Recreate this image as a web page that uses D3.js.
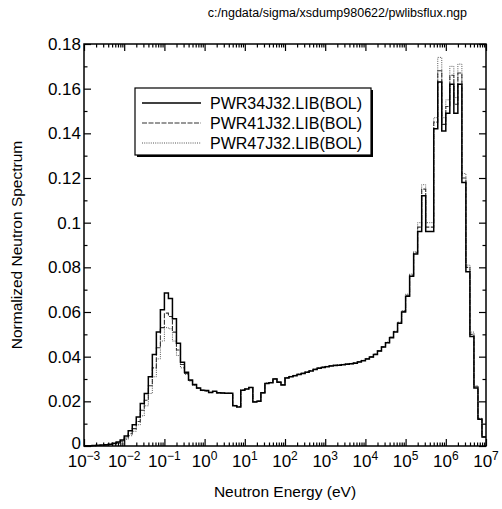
<!DOCTYPE html>
<html lang="en">
<head>
<meta charset="UTF-8">
<title>Normalized Neutron Spectrum</title>
<script src="https://d3js.org/d3.v7.min.js"></script>
<style>
    body { margin: 0; background: #fff; font-family: "Liberation Sans", Arial, sans-serif; }
    svg text { fill: #000; }
</style>
</head>
<body>
<div id="chart"></div>
<script>
// group boundaries, log10 of energy in eV
const logEdges = [
    -3.0, -2.9, -2.8, -2.7, -2.6, -2.5, -2.4, -2.3, -2.2, -2.1,
    -2.0, -1.9, -1.8, -1.7, -1.6, -1.5, -1.4, -1.3, -1.2, -1.1,
    -1.0, -0.9, -0.8, -0.7, -0.6, -0.5, -0.4, -0.3, -0.2, -0.1,
    0.0, 0.1, 0.2, 0.3, 0.4, 0.5, 0.6, 0.7, 0.8, 0.9,
    1.0, 1.1, 1.2, 1.3, 1.4, 1.5, 1.6, 1.7, 1.8, 1.9,
    2.0, 2.1, 2.2, 2.3, 2.4, 2.5, 2.6, 2.7, 2.8, 2.9,
    3.0, 3.1, 3.2, 3.3, 3.4, 3.5, 3.6, 3.7, 3.8, 3.9,
    4.0, 4.1, 4.2, 4.3, 4.4, 4.5, 4.6, 4.7, 4.8, 4.9,
    5.0, 5.1, 5.2, 5.3, 5.4, 5.5, 5.6, 5.7, 5.8, 5.9,
    6.0, 6.1, 6.2, 6.3, 6.4, 6.5, 6.6, 6.7, 6.8, 6.9,
    7.0
];

const pwr34 = [
    0.0001, 0.0001, 0.0002, 0.0003, 0.0004, 0.0006, 0.0008, 0.0012, 0.0018, 0.0027,
    0.0045, 0.0068, 0.0095, 0.0130, 0.0190, 0.0235, 0.0310, 0.0410, 0.0510, 0.0610,
    0.0685, 0.0660, 0.0570, 0.0460, 0.0375, 0.0330, 0.0295, 0.0275, 0.0260, 0.0250,
    0.0248, 0.0240, 0.0245, 0.0238, 0.0237, 0.0236, 0.0236, 0.0180, 0.0175, 0.0250,
    0.0255, 0.0262, 0.0197, 0.0200, 0.0238, 0.0280, 0.0283, 0.0300, 0.0285, 0.0273,
    0.0305, 0.0310, 0.0315, 0.0320, 0.0325, 0.0330, 0.0336, 0.0342, 0.0348, 0.0352,
    0.0355, 0.0358, 0.0360, 0.0362, 0.0364, 0.0366, 0.0368, 0.0371, 0.0376, 0.0382,
    0.0390, 0.0398, 0.0410, 0.0425, 0.0443, 0.0462, 0.0485, 0.0510, 0.0550, 0.0600,
    0.0670, 0.0760, 0.0860, 0.0960, 0.1120, 0.0960, 0.0960, 0.1420, 0.1630, 0.1410,
    0.1490, 0.1620, 0.1490, 0.1620, 0.1180, 0.0780, 0.0490, 0.0260, 0.0120, 0.0040
];

const pwr41 = [
    0.0001, 0.0001, 0.0002, 0.0002, 0.0003, 0.0005, 0.0007, 0.0010, 0.0015, 0.0022,
    0.0036, 0.0055, 0.0078, 0.0110, 0.0160, 0.0205, 0.0270, 0.0350, 0.0440, 0.0530,
    0.0595, 0.0580, 0.0510, 0.0430, 0.0365, 0.0325, 0.0293, 0.0273, 0.0259, 0.0249,
    0.0247, 0.0240, 0.0244, 0.0238, 0.0237, 0.0236, 0.0236, 0.0181, 0.0176, 0.0250,
    0.0255, 0.0262, 0.0198, 0.0201, 0.0238, 0.0281, 0.0284, 0.0301, 0.0286, 0.0274,
    0.0306, 0.0311, 0.0316, 0.0321, 0.0326, 0.0331, 0.0337, 0.0343, 0.0349, 0.0353,
    0.0356, 0.0359, 0.0361, 0.0363, 0.0365, 0.0367, 0.0369, 0.0372, 0.0377, 0.0383,
    0.0391, 0.0399, 0.0411, 0.0426, 0.0444, 0.0463, 0.0487, 0.0512, 0.0552, 0.0603,
    0.0675, 0.0765, 0.0865, 0.0980, 0.1150, 0.0980, 0.0980, 0.1450, 0.1680, 0.1440,
    0.1520, 0.1660, 0.1530, 0.1670, 0.1200, 0.0800, 0.0500, 0.0265, 0.0122, 0.0041
];

const pwr47 = [
    0.0001, 0.0001, 0.0001, 0.0002, 0.0003, 0.0004, 0.0006, 0.0008, 0.0012, 0.0018,
    0.0030, 0.0046, 0.0066, 0.0095, 0.0135, 0.0180, 0.0235, 0.0310, 0.0390, 0.0470,
    0.0530, 0.0525, 0.0470, 0.0405, 0.0350, 0.0320, 0.0290, 0.0272, 0.0258, 0.0248,
    0.0246, 0.0239, 0.0244, 0.0237, 0.0237, 0.0236, 0.0235, 0.0182, 0.0177, 0.0250,
    0.0256, 0.0263, 0.0199, 0.0202, 0.0239, 0.0282, 0.0285, 0.0302, 0.0287, 0.0275,
    0.0307, 0.0312, 0.0317, 0.0322, 0.0327, 0.0332, 0.0338, 0.0344, 0.0350, 0.0354,
    0.0357, 0.0360, 0.0362, 0.0364, 0.0366, 0.0368, 0.0370, 0.0373, 0.0378, 0.0384,
    0.0392, 0.0400, 0.0412, 0.0427, 0.0445, 0.0465, 0.0489, 0.0514, 0.0555, 0.0606,
    0.0680, 0.0770, 0.0870, 0.1000, 0.1170, 0.1000, 0.1000, 0.1470, 0.1740, 0.1470,
    0.1550, 0.1700, 0.1560, 0.1710, 0.1220, 0.0810, 0.0510, 0.0270, 0.0124, 0.0042
];

const seriesNames = ["PWR34J32.LIB(BOL)", "PWR41J32.LIB(BOL)", "PWR47J32.LIB(BOL)"];
const yTicks = [0, 0.02, 0.04, 0.06, 0.08, 0.1, 0.12, 0.14, 0.16, 0.18];
const yMinorTicks = [0.01, 0.03, 0.05, 0.07, 0.09, 0.11, 0.13, 0.15, 0.17];
const xDecades = [-3, -2, -1, 0, 1, 2, 3, 4, 5, 6, 7];

const width = 502, height = 509;
const margin = { left: 84, right: 16, top: 44, bottom: 63 };
const plotL = margin.left, plotR = width - margin.right;
const plotT = margin.top, plotB = height - margin.bottom;

const svg = d3.select("#chart").append("svg")
    .attr("width", width)
    .attr("height", height);

const x = d3.scaleLog()
    .domain([1e-3, 1e7])
    .range([plotL, plotR]);

const y = d3.scaleLinear()
    .domain([0, 0.18])
    .range([plotB, plotT]);

const styles = [
    { stroke: "#000", width: 1.5, dash: null },
    { stroke: "#333", width: 1.1, dash: "5,1.5" },
    { stroke: "#555", width: 1, dash: "1,1.2" }
];

// step lines, drawn lightest first
const line = d3.line()
    .x(d => x(Math.pow(10, d[0])))
    .y(d => y(d[1]))
    .curve(d3.curveStepAfter);

function stepPoints(vals) {
    const pts = vals.map((v, i) => [logEdges[i], v]);
    pts.push([logEdges[logEdges.length - 1], vals[vals.length - 1]]);
    return pts;
}

const allSeries = [pwr34, pwr41, pwr47];
[2, 1, 0].forEach(k => {
    svg.append("path")
        .attr("d", line(stepPoints(allSeries[k])))
        .attr("fill", "none")
        .attr("stroke", styles[k].stroke)
        .attr("stroke-width", styles[k].width)
        .attr("stroke-dasharray", styles[k].dash);
});

// axes (ticks point inward on all four sides)
const minorX = [];
xDecades.slice(0, -1).forEach(p => {
    for (let m = 2; m <= 9; m++) minorX.push(m * Math.pow(10, p));
});
const majorX = xDecades.map(p => Math.pow(10, p));

function addAxis(axis, transform) {
    const g = svg.append("g").attr("transform", transform).call(axis);
    g.select(".domain").remove();
    g.selectAll("line").attr("stroke", "#000").attr("stroke-width", 1.2);
    g.selectAll("text").remove();
    return g;
}

addAxis(d3.axisBottom(x).tickValues(majorX).tickSize(-7), `translate(0,${plotB})`);
addAxis(d3.axisBottom(x).tickValues(minorX).tickSize(-3.5), `translate(0,${plotB})`);
addAxis(d3.axisTop(x).tickValues(majorX).tickSize(-7), `translate(0,${plotT})`);
addAxis(d3.axisTop(x).tickValues(minorX).tickSize(-3.5), `translate(0,${plotT})`);
addAxis(d3.axisLeft(y).tickValues(yTicks).tickSize(-7), `translate(${plotL},0)`);
addAxis(d3.axisLeft(y).tickValues(yMinorTicks).tickSize(-3.5), `translate(${plotL},0)`);
addAxis(d3.axisRight(y).tickValues(yTicks).tickSize(-7), `translate(${plotR},0)`);
addAxis(d3.axisRight(y).tickValues(yMinorTicks).tickSize(-3.5), `translate(${plotR},0)`);

svg.append("rect")
    .attr("x", plotL).attr("y", plotT)
    .attr("width", plotR - plotL).attr("height", plotB - plotT)
    .attr("fill", "none")
    .attr("stroke", "#000")
    .attr("stroke-width", 1.5);

// y tick labels
svg.append("g").selectAll("text")
    .data(yTicks)
    .join("text")
    .attr("x", plotL - 3)
    .attr("y", d => y(d) + (d === 0 ? 3 : 6))
    .attr("text-anchor", "end")
    .attr("font-size", 17)
    .text(d => d === 0 ? "0" : String(d));

// x tick labels with exponent
const xl = svg.append("g").selectAll("text")
    .data(xDecades)
    .join("text")
    .attr("x", d => x(Math.pow(10, d)))
    .attr("y", plotB + 21)
    .attr("text-anchor", "middle")
    .attr("font-size", 17);
xl.append("tspan").text("10");
xl.append("tspan")
    .attr("dy", -7)
    .attr("font-size", 12)
    .text(d => d < 0 ? "\u2212" + Math.abs(d) : String(d));

// axis titles
svg.append("text")
    .attr("x", (plotL + plotR) / 2)
    .attr("y", 497)
    .attr("text-anchor", "middle")
    .attr("font-size", 15.5)
    .text("Neutron Energy (eV)");

svg.append("text")
    .attr("transform", `translate(22,${(plotT + plotB) / 2}) rotate(-90)`)
    .attr("text-anchor", "middle")
    .attr("font-size", 15.5)
    .text("Normalized Neutron Spectrum");

svg.append("text")
    .attr("x", 467)
    .attr("y", 17)
    .attr("text-anchor", "end")
    .attr("font-size", 12.5)
    .text("c:/ngdata/sigma/xsdump980622/pwlibsflux.ngp");

// legend with drop shadow
const lg = svg.append("g");
lg.append("rect")
    .attr("x", 137).attr("y", 90).attr("width", 236).attr("height", 67)
    .attr("fill", "#000");
lg.append("rect")
    .attr("x", 135).attr("y", 88).attr("width", 236).attr("height", 67)
    .attr("fill", "#fff").attr("stroke", "#000").attr("stroke-width", 1.2);

seriesNames.forEach((name, i) => {
    const ly = 103 + i * 20;
    lg.append("line")
        .attr("x1", 142).attr("x2", 201)
        .attr("y1", ly).attr("y2", ly)
        .attr("stroke", styles[i].stroke)
        .attr("stroke-width", styles[i].width)
        .attr("stroke-dasharray", styles[i].dash);
    lg.append("text")
        .attr("x", 210).attr("y", ly + 6)
        .attr("font-size", 16)
        .text(name);
});
</script>
</body>
</html>
